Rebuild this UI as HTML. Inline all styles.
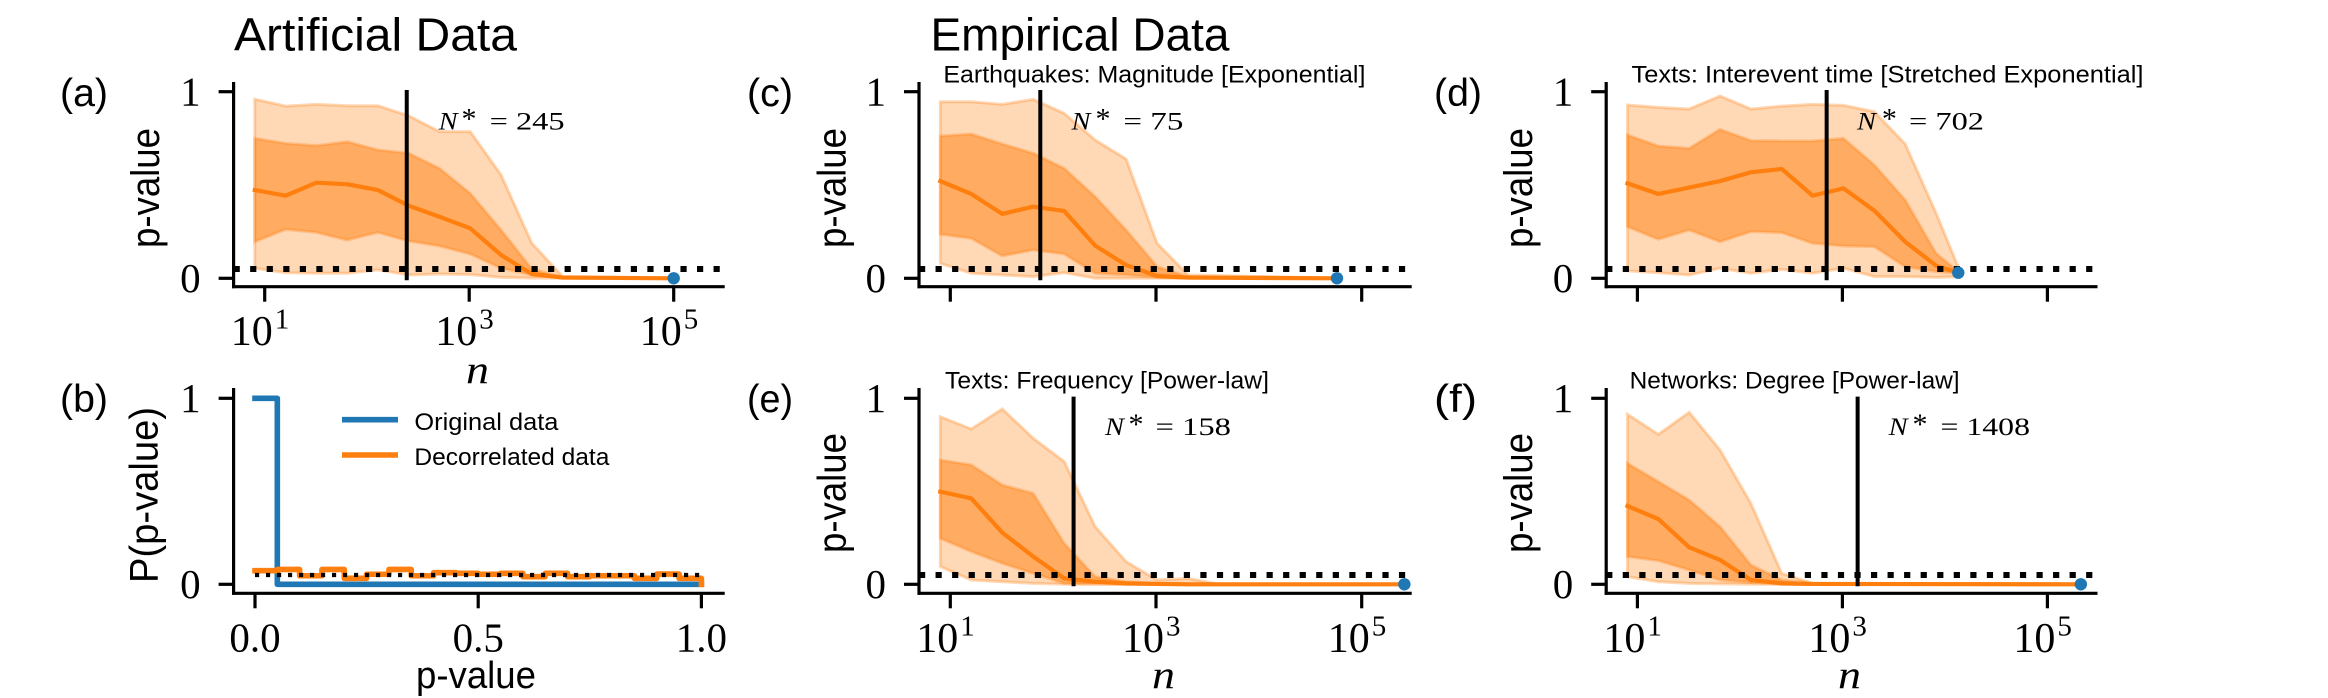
<!DOCTYPE html>
<html lang="en">
<head>
<meta charset="utf-8">
<title>p-value versus sample size: artificial and empirical data</title>
<style>
  html, body { margin: 0; padding: 0; background: #fff; }
  svg { display: block; }
  .sans { font-family: "Liberation Sans", sans-serif; fill: #000; }
  .serif { font-family: "Liberation Serif", serif; fill: #000; }
</style>
</head>
<body>
<svg id="figure" xmlns="http://www.w3.org/2000/svg" width="2328" height="698" viewBox="0 0 2328 698">
  <rect width="2328" height="698" fill="#fff"/>

  <text class="sans" x="234" y="50.7" font-size="46" textLength="283" lengthAdjust="spacingAndGlyphs">Artificial Data</text>
  <text class="sans" x="930.5" y="50.7" font-size="46" textLength="299" lengthAdjust="spacingAndGlyphs">Empirical Data</text>

  <text class="sans" x="60" y="106" font-size="39" textLength="48" lengthAdjust="spacingAndGlyphs">(a)</text>
  <text class="sans" x="60" y="412" font-size="39" textLength="48" lengthAdjust="spacingAndGlyphs">(b)</text>
  <text class="sans" x="747" y="106" font-size="39" textLength="46" lengthAdjust="spacingAndGlyphs">(c)</text>
  <text class="sans" x="1434" y="106" font-size="39" textLength="48" lengthAdjust="spacingAndGlyphs">(d)</text>
  <text class="sans" x="747" y="412" font-size="39" textLength="46" lengthAdjust="spacingAndGlyphs">(e)</text>
  <text class="sans" x="1434" y="412" font-size="39" textLength="43" lengthAdjust="spacingAndGlyphs">(f)</text>

  <text class="sans" x="943.4" y="82.7" font-size="24.5" textLength="422" lengthAdjust="spacingAndGlyphs">Earthquakes: Magnitude [Exponential]</text>
  <text class="sans" x="1631.5" y="82.7" font-size="24.5" textLength="512" lengthAdjust="spacingAndGlyphs">Texts: Interevent time [Stretched Exponential]</text>
  <text class="sans" x="945" y="388.3" font-size="24.5" textLength="324" lengthAdjust="spacingAndGlyphs">Texts: Frequency [Power-law]</text>
  <text class="sans" x="1629.6" y="388.3" font-size="24.5" textLength="330" lengthAdjust="spacingAndGlyphs">Networks: Degree [Power-law]</text>

  <text class="sans" transform="translate(159 248) rotate(-90)" font-size="40" textLength="120" lengthAdjust="spacingAndGlyphs">p-value</text>
  <text class="sans" transform="translate(157.5 583) rotate(-90)" font-size="40" textLength="176" lengthAdjust="spacingAndGlyphs">P(p-value)</text>
  <text class="sans" transform="translate(845.6 248) rotate(-90)" font-size="40" textLength="120" lengthAdjust="spacingAndGlyphs">p-value</text>
  <text class="sans" transform="translate(1531.8 248) rotate(-90)" font-size="40" textLength="120" lengthAdjust="spacingAndGlyphs">p-value</text>
  <text class="sans" transform="translate(845.6 553) rotate(-90)" font-size="40" textLength="120" lengthAdjust="spacingAndGlyphs">p-value</text>
  <text class="sans" transform="translate(1531.8 553) rotate(-90)" font-size="40" textLength="120" lengthAdjust="spacingAndGlyphs">p-value</text>

  <text class="serif" x="466" y="383" font-size="40" font-style="italic" textLength="23" lengthAdjust="spacingAndGlyphs">n</text>
  <text class="sans" x="416" y="688" font-size="38" textLength="120" lengthAdjust="spacingAndGlyphs">p-value</text>
  <text class="serif" x="1152" y="688" font-size="40" font-style="italic" textLength="23" lengthAdjust="spacingAndGlyphs">n</text>
  <text class="serif" x="1838" y="688" font-size="40" font-style="italic" textLength="23" lengthAdjust="spacingAndGlyphs">n</text>

  <g id="panel-a"></g>
  <g id="panel-b"></g>
  <g id="panel-c"></g>
  <g id="panel-d"></g>
  <g id="panel-e"></g>
  <g id="panel-f"></g>

  <g>
    <line x1="342" y1="419.7" x2="398" y2="419.7" stroke="#1f77b4" stroke-width="5.6"/>
    <text class="sans" x="414.4" y="430" font-size="24.5" textLength="144" lengthAdjust="spacingAndGlyphs">Original data</text>
    <line x1="342" y1="455" x2="398" y2="455" stroke="#ff7f0e" stroke-width="5.6"/>
    <text class="sans" x="414.4" y="465" font-size="24.5" textLength="195" lengthAdjust="spacingAndGlyphs">Decorrelated data</text>
  </g>
</svg>

<script>
// ---- Data ----
const significanceLevel = 0.05;
const yTickValues = [0, 1];
const xTickExponents = [1, 3, 5];
const histogramTickValues = [0, 0.5, 1];
const histogramTickLabels = ['0.0', '0.5', '1.0'];

const nStarA = 245;
const nStarC = 75;
const nStarD = 702;
const nStarE = 158;
const nStarF = 1408;

const sizesA = [8, 16, 32, 64, 128, 256, 512, 1024, 2048, 4096, 8192, 100000];
const upperA = [0.96, 0.923, 0.932, 0.925, 0.925, 0.871, 0.786, 0.786, 0.554, 0.188, 0.01, 0];
const q75A = [0.75, 0.723, 0.711, 0.732, 0.688, 0.67, 0.589, 0.455, 0.259, 0.05, 0.005, 0];
const medianA = [0.473, 0.443, 0.5125, 0.504, 0.473, 0.389, 0.33, 0.268, 0.125, 0.023, 0.004, 0];
const q25A = [0.196, 0.2625, 0.246, 0.205, 0.246, 0.2, 0.173, 0.13, 0.054, 0.018, 0.003, 0];
const lowerA = [0.054, 0.03, 0.027, 0.027, 0.045, 0.018, 0.023, 0.02, 0.005, 0.001, 0, 0];

const sizesC = [8, 16, 32, 64, 128, 256, 512, 1024, 2048, 57500];
const upperC = [0.946, 0.946, 0.932, 0.959, 0.884, 0.741, 0.639, 0.1875, 0.018, 0];
const q75C = [0.7625, 0.773, 0.72, 0.67, 0.589, 0.4375, 0.259, 0.0625, 0.009, 0];
const medianC = [0.521, 0.452, 0.345, 0.384, 0.361, 0.175, 0.071, 0.0125, 0.004, 0];
const q25C = [0.236, 0.214, 0.12, 0.152, 0.13, 0.027, 0.018, 0.005, 0.002, 0];
const lowerC = [0.08, 0.027, 0.018, 0.009, 0.03, 0, 0, 0, 0, 0];

const sizesD = [8, 16, 32, 64, 128, 256, 512, 1024, 2048, 4096, 8192, 13500];
const upperD = [0.929, 0.916, 0.907, 0.977, 0.907, 0.923, 0.932, 0.927, 0.893, 0.72, 0.35, 0.06];
const q75D = [0.768, 0.709, 0.696, 0.798, 0.7375, 0.736, 0.736, 0.75, 0.607, 0.42, 0.134, 0.036];
const medianD = [0.509, 0.452, 0.486, 0.521, 0.568, 0.586, 0.443, 0.482, 0.3625, 0.196, 0.068, 0.03];
const q25D = [0.277, 0.209, 0.259, 0.196, 0.25, 0.245, 0.1875, 0.173, 0.17, 0.0625, 0.036, 0.027];
const lowerD = [0.04, 0.03, 0.018, 0.054, 0.027, 0.048, 0.027, 0.054, 0.009, 0.009, 0.005, 0.009];

const sizesE = [8, 16, 32, 64, 128, 256, 512, 1024, 2048, 4096, 260000];
const upperE = [0.901, 0.835, 0.943, 0.785, 0.66, 0.31, 0.122, 0.023, 0.032, 0, 0];
const q75E = [0.668, 0.642, 0.534, 0.489, 0.22, 0.041, 0.014, 0.005, 0.002, 0, 0];
const medianE = [0.498, 0.462, 0.278, 0.149, 0.032, 0.014, 0.005, 0.002, 0, 0, 0];
const q25E = [0.247, 0.176, 0.113, 0.059, 0.005, 0.002, 0, 0, 0, 0, 0];
const lowerE = [0.095, 0.023, 0.014, 0.005, 0, 0, 0, 0, 0, 0, 0];

const sizesF = [8, 16, 32, 64, 128, 256, 512, 212000];
const upperF = [0.914, 0.806, 0.925, 0.722, 0.435, 0.059, 0.005, 0];
const q75F = [0.65, 0.552, 0.453, 0.31, 0.104, 0.023, 0.005, 0];
const medianF = [0.421, 0.351, 0.199, 0.131, 0.023, 0.005, 0.002, 0];
const q25F = [0.149, 0.127, 0.077, 0.023, 0.009, 0.002, 0, 0];
const lowerF = [0.041, 0.014, 0.005, 0.002, 0, 0, 0, 0];

const histogramOriginal = [1, 0, 0, 0, 0, 0, 0, 0, 0, 0, 0, 0, 0, 0, 0, 0, 0, 0, 0, 0];
const histogramDecorrelated = [0.073, 0.08, 0.046, 0.08, 0.032, 0.054, 0.08, 0.046, 0.0625, 0.059, 0.054, 0.059, 0.041, 0.059, 0.041, 0.046, 0.046, 0.032, 0.055, 0.032];

// ---- Drawing ----
const SVG_NS = 'http://www.w3.org/2000/svg';
const ORANGE = '#ff7f0e';
const BLUE = '#1f77b4';

function mark(parent, tag, name, attrs, text) {
  const el = document.createElementNS(SVG_NS, tag);
  
  
  Object.keys(attrs).forEach(function (k) { el.setAttribute(k, attrs[k]); });
  if (text !== undefined) el.textContent = text;
  parent.appendChild(el);
  return el;
}

function linePath(xs, ys) {
  return xs.map(function (x, i) { return (i ? 'L' : 'M') + x.toFixed(2) + ' ' + ys[i].toFixed(2); }).join(' ');
}

function drawFrame(g, f) {
  mark(g, 'line', 'y-axis-spine', { x1: f.left, y1: f.top, x2: f.left, y2: f.bottom + 1.5, stroke: '#000', 'stroke-width': 3.2 });
  mark(g, 'line', 'x-axis-spine', { x1: f.left - 1.5, y1: f.bottom, x2: f.right, y2: f.bottom, stroke: '#000', 'stroke-width': 3.2 });
  yTickValues.forEach(function (v) {
    const y = f.yScale(v);
    mark(g, 'line', 'y-tick-' + v, { x1: f.left - 15, y1: y, x2: f.left, y2: y, stroke: '#000', 'stroke-width': 3.2 });
    mark(g, 'text', 'y-tick-label-' + v, { class: 'serif', x: f.left - 33, y: y + 13.8, 'font-size': 41, 'text-anchor': 'end' }, String(v));
  });
}

function drawLogPanel(id, f, sizes, upper, q75, median, q25, lower, nStar, showTickLabels, label) {
  const g = document.getElementById(id);
  f.yScale = function (p) { return f.y0 - p * (f.y0 - f.y1); };
  const xScale = function (n) { return f.tick10 + (Math.log10(n) - 1) * f.decade; };
  const xs = sizes.map(xScale);
  const band = function (hi, lo) {
    const top = hi.map(f.yScale);
    const bot = lo.map(f.yScale);
    return linePath(xs.concat(xs.slice().reverse()), top.concat(bot.slice().reverse())) + ' Z';
  };
  mark(g, 'path', 'outer-percentile-band', { d: band(upper, lower), fill: ORANGE, 'fill-opacity': 0.3, stroke: ORANGE, 'stroke-opacity': 0.3, 'stroke-width': 3 });
  mark(g, 'path', 'inner-percentile-band', { d: band(q75, q25), fill: ORANGE, 'fill-opacity': 0.5, stroke: ORANGE, 'stroke-opacity': 0.3, 'stroke-width': 3 });
  mark(g, 'path', 'median-line', { d: linePath(xs, median.map(f.yScale)), fill: 'none', stroke: ORANGE, 'stroke-width': 4.2, 'stroke-linejoin': 'round', 'stroke-linecap': 'square' });
  const yAlpha = f.yScale(significanceLevel);
  mark(g, 'line', 'significance-line', { x1: f.left, y1: yAlpha, x2: f.right, y2: yAlpha, stroke: '#000', 'stroke-width': 6, 'stroke-dasharray': '6.2 10.35' });
  const xStar = xScale(nStar);
  mark(g, 'line', 'n-star-line', { x1: xStar, y1: f.y1 - 1.7, x2: xStar, y2: f.y0 + 2, stroke: '#000', 'stroke-width': 4 });
  mark(g, 'ellipse', 'original-data-point', { cx: xs[xs.length - 1], cy: f.yScale(median[median.length - 1]), rx: 6.2, ry: 6.2, fill: BLUE });
  drawFrame(g, f);
  xTickExponents.forEach(function (e) {
    const x = xScale(Math.pow(10, e));
    mark(g, 'line', 'x-tick-1e' + e, { x1: x, y1: f.bottom, x2: x, y2: f.bottom + 15, stroke: '#000', 'stroke-width': 3.2 });
    if (showTickLabels) {
      const base = f.bottom + 58.5;
      mark(g, 'text', 'x-tick-label-1e' + e, { class: 'serif', x: x - 34, y: base, 'font-size': 42 }, '10');
      mark(g, 'text', 'x-tick-exponent-1e' + e, { class: 'serif', x: x + 10, y: base - 16.5, 'font-size': 29 }, String(e));
    }
  });
  mark(g, 'text', 'n-star-symbol', { class: 'serif', x: label.x, y: label.y, 'font-size': 25, 'font-style': 'italic', textLength: 19, lengthAdjust: 'spacingAndGlyphs' }, 'N');
  mark(g, 'text', 'n-star-asterisk', { class: 'serif', x: label.sx - 2.5, y: label.y - 1, 'font-size': 30 }, '*');
  mark(g, 'text', 'n-star-value', { class: 'serif', x: label.ex, y: label.y, 'font-size': 25, textLength: label.w, lengthAdjust: 'spacingAndGlyphs' }, '= ' + nStar);
}

function drawHistogramPanel(id, f) {
  const g = document.getElementById(id);
  f.yScale = function (p) { return f.y0 - p * (f.y0 - f.y1); };
  const xScale = function (v) { return f.x0 + v * (f.x1 - f.x0); };
  const stepPath = function (values, dropToZero) {
    const xs = [];
    const ys = [];
    values.forEach(function (v, i) {
      xs.push(xScale(i / values.length));
      ys.push(f.yScale(v));
      xs.push(xScale((i + 1) / values.length));
      ys.push(f.yScale(v));
    });
    if (dropToZero) {
      xs.push(xScale(1));
      ys.push(f.yScale(0));
    }
    return linePath(xs, ys);
  };
  const common = { fill: 'none', 'stroke-width': 5.6, 'stroke-linejoin': 'round', 'stroke-linecap': 'square' };
  mark(g, 'path', 'original-data-histogram', Object.assign({ d: stepPath(histogramOriginal, false), stroke: BLUE }, common));
  mark(g, 'path', 'decorrelated-data-histogram', Object.assign({ d: stepPath(histogramDecorrelated, true), stroke: ORANGE }, common));
  const yAlpha = f.yScale(significanceLevel);
  mark(g, 'line', 'significance-line', { x1: xScale(0), y1: yAlpha, x2: xScale(1), y2: yAlpha, stroke: '#000', 'stroke-width': 4.15, 'stroke-dasharray': '4.15 6.85' });
  drawFrame(g, f);
  histogramTickValues.forEach(function (v, i) {
    const x = xScale(v);
    mark(g, 'line', 'x-tick-' + v, { x1: x, y1: f.bottom, x2: x, y2: f.bottom + 15, stroke: '#000', 'stroke-width': 3.2 });
    mark(g, 'text', 'x-tick-label-' + v, { class: 'serif', x: x, y: 651.7, 'font-size': 41, 'text-anchor': 'middle' }, histogramTickLabels[i]);
  });
}

const topRow = { top: 82, bottom: 286.7, y0: 278.3, y1: 91.7 };
const bottomRow = { top: 388, bottom: 593.3, y0: 584.3, y1: 398.3 };
const col1 = { left: 233.6, right: 724.7, tick10: 264.7, decade: 102.25 };
const col2 = { left: 919, right: 1411.7, tick10: 950.3, decade: 102.85 };
const col3 = { left: 1606.2, right: 2097.5, tick10: 1637.4, decade: 102.5 };

drawLogPanel('panel-a', Object.assign({}, topRow, col1), sizesA, upperA, q75A, medianA, q25A, lowerA, nStarA, true, { x: 438.7, sx: 464, ex: 489.6, y: 129.3, w: 75 });
drawLogPanel('panel-c', Object.assign({}, topRow, col2), sizesC, upperC, q75C, medianC, q25C, lowerC, nStarC, false, { x: 1071.5, sx: 1098, ex: 1123.4, y: 129.3, w: 60 });
drawLogPanel('panel-d', Object.assign({}, topRow, col3), sizesD, upperD, q75D, medianD, q25D, lowerD, nStarD, false, { x: 1857, sx: 1884.4, ex: 1909, y: 129.3, w: 75 });
drawLogPanel('panel-e', Object.assign({}, bottomRow, col2), sizesE, upperE, q75E, medianE, q25E, lowerE, nStarE, true, { x: 1105, sx: 1131, ex: 1155.5, y: 435, w: 75.5 });
drawLogPanel('panel-f', Object.assign({}, bottomRow, col3), sizesF, upperF, q75F, medianF, q25F, lowerF, nStarF, true, { x: 1888.6, sx: 1915, ex: 1940.5, y: 435, w: 89.5 });
drawHistogramPanel('panel-b', Object.assign({}, bottomRow, { left: 233.6, right: 724.7, x0: 255, x1: 701.4 }));
</script>
</body>
</html>
